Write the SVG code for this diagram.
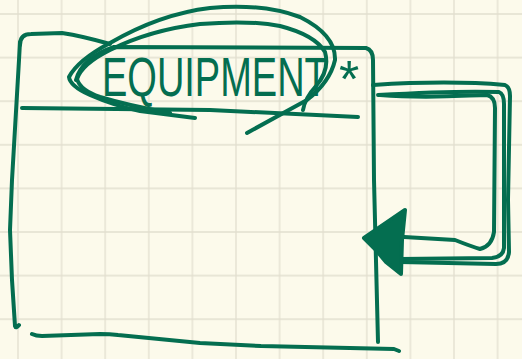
<svg xmlns="http://www.w3.org/2000/svg" width="522" height="359" viewBox="0 0 522 359">
  <defs>
    <pattern id="grid" x="-3.8" y="-7.8" width="43.6" height="43.6" patternUnits="userSpaceOnUse">
      <path d="M21.8,0 V43.6 M0,21.8 H43.6" stroke="#e2dfcf" stroke-width="1.3" fill="none"/>
    </pattern>
    <style>
      .ink { fill: none; stroke: #046e50; stroke-width: 4; stroke-linecap: round; stroke-linejoin: round; }
      .txt { fill: #046e50; font-family: "Liberation Sans", Arial, sans-serif; }
    </style>
  </defs>
  <rect width="522" height="359" fill="#fcfaeb"/>
  <rect width="522" height="359" fill="url(#grid)"/>

  <g id="equipment">
    <!-- box outline -->
    <path class="ink" d="M20,45 Q20,34 31,34 L62,33 Q82,36 110,44"/>
    <path class="ink" d="M76,80 Q82,58 114,47 L366,48 Q373,50 373,60 L374,180 L378,342"/>
    <path class="ink" d="M20,42 L19,60 L12,180 L10,230 L12,280 L15,326 Q16,329 19,325"/>
    <path class="ink" d="M32,334 Q36,336 42,336 L100,334 Q110,334 118,335 L200,343 L261,346 L394,349 L399,351"/>
    <!-- header divider -->
    <path class="ink" d="M22,108 L210,110 L358,117"/>
    <!-- scribbled ellipses around name -->
    <path class="ink" d="M247,133 L307,100 Q330,82 335,60 Q336,35 300,17 Q262,3 210,8 Q160,14 110,43 Q78,60 69,77 Q70,86 90,95 Q115,106 140,111 L195,118"/>
    <path class="ink" d="M303,110 Q305,98 316,86 Q330,70 325,52 Q315,35 280,26 Q250,20 200,24 Q150,30 110,50 Q82,64 77,79 Q80,90 100,97 Q130,106 170,113"/>
    <text class="txt" transform="translate(102,96) scale(1,1.45)" x="0" y="0" font-size="38">EQUIPMENT</text>
    <text class="txt" x="339" y="97" font-size="52">*</text>
  </g>

  <g id="connectors">
    <path class="ink" d="M373,85 C420,82 470,82 505,85 Q510,87 510,96 L508,200 L509,252 Q508,264 496,264 L400,262"/>
    <path class="ink" d="M378,95 C430,92 470,91 499,92 Q504,94 504,104 L504,248 Q503,257 492,258 L400,259"/>
    <path class="ink" d="M380,95 C430,99 470,95 487,95 Q495,97 495,108 L494,232 Q492,246 480,249 Q470,246 455,240 L404,237"/>
    <polygon points="364,238 405,210 402,240 401,274 386,262 376,250" fill="#046e50" stroke="#046e50" stroke-width="4" stroke-linejoin="round"/>
  </g>
</svg>
